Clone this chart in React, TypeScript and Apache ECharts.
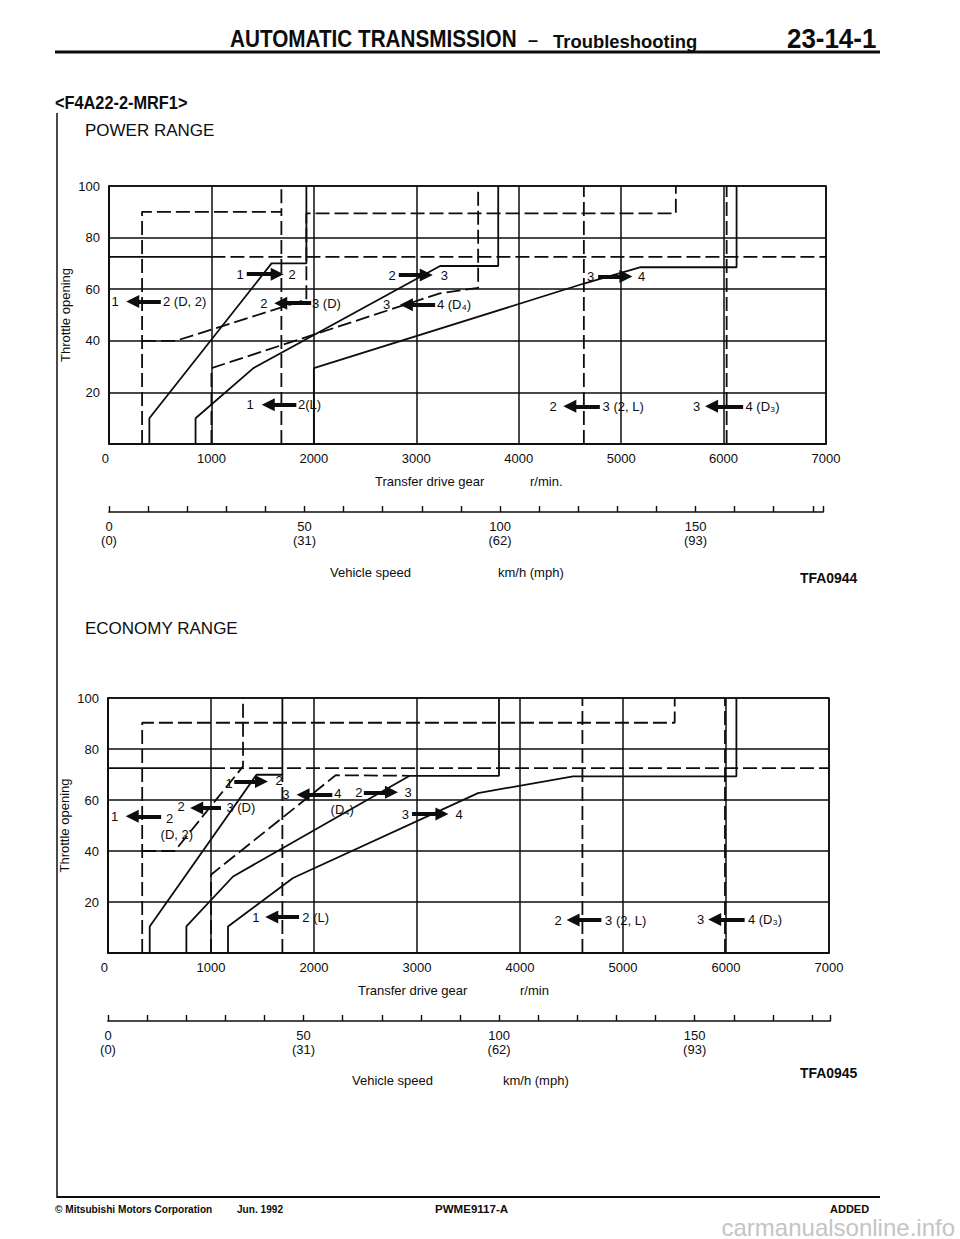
import React, { useEffect, useRef } from "react";
import * as echarts from "echarts";

type Pt = [number, number];
type Arrow = [number, number, number]; // tail rpm, arrow-head rpm, throttle %
type Tag = [number, number, string]; // rpm, throttle %, text

// vehicle speed ruler
const speedKmh = [0, 50, 100, 150];
const speedMph = [0, 31, 62, 93];

// ---------- POWER RANGE ----------
const pwrUp12: Pt[] = [[394, 0], [394, 10], [1587, 70], [1927, 70], [1927, 100]];
const pwrDown21D2: Pt[] = [[323, 0], [323, 90], [1683, 90], [1683, 100]];
const pwrDown21L: Pt[] = [[1683, 0], [1683, 90]];
const pwrDown32D: Pt[] = [[323, 40], [652, 40], [1927, 56], [1927, 89.4], [5534, 89.4], [5534, 100]];
const pwrUp23: Pt[] = [[845, 0], [845, 10], [1410, 29.4], [3232, 69], [3800, 69], [3800, 100]];
const pwrDown43D4: Pt[] = [[1000, 0], [1000, 29.4], [3230, 58.4], [3604, 60.5], [3604, 100]];
const pwrUp34: Pt[] = [[2000, 0], [2000, 29.4], [4645, 62.3], [5182, 68.5], [6127, 68.5], [6127, 100]];
const pwrDown32L: Pt[] = [[4636, 0], [4636, 100]];
const pwrDown43D3: Pt[] = [[6030, 0], [6030, 100]];
const pwrKickSolid: Pt[] = [[0, 72.5], [1000, 72.5]];
const pwrKickDash: Pt[] = [[1000, 72.5], [7000, 72.5]];

const pwrArrows: Arrow[] = [
  [506, 232, 55.2],
  [1345, 1642, 65.8],
  [1974, 1677, 54.6],
  [2829, 3097, 65.5],
  [3184, 2903, 54],
  [1829, 1555, 15.2],
  [4775, 5046, 64.9],
  [4792, 4499, 14.6],
  [6191, 5883, 14.6],
];
const pwrTags: Tag[] = [
  [60, 55.2, "1"],
  [739, 55.2, "2 (D, 2)"],
  [1281, 65.8, "1"],
  [1787, 65.8, "2"],
  [1513, 54.6, "2"],
  [2123, 54.6, "3 (D)"],
  [2765, 65.5, "2"],
  [3274, 65.5, "3"],
  [2710, 54, "3"],
  [3368, 54, "4 (D₄)"],
  [1377, 15.2, "1"],
  [1958, 15.2, "2(L)"],
  [4701, 64.9, "3"],
  [5199, 64.9, "4"],
  [4336, 14.6, "2"],
  [5020, 14.6, "3 (2, L)"],
  [5736, 14.6, "3"],
  [6381, 14.6, "4 (D₃)"],
];

// ---------- ECONOMY RANGE ----------
const ecoDown21D2: Pt[] = [[332, 0], [332, 90.3], [5502, 90.3], [5502, 100]];
const ecoDown21L: Pt[] = [[1693, 0], [1693, 70]];
const ecoUp12: Pt[] = [[405, 0], [405, 10.4], [1441, 69.9], [1693, 69.9], [1693, 100]];
const ecoDown32D: Pt[] = [[332, 40], [648, 40], [1311, 73.2], [1311, 100]];
const ecoUp23: Pt[] = [[761, 0], [761, 10.4], [1214, 30], [2929, 69.5], [3796, 69.5], [3796, 100]];
const ecoDown43D4: Pt[] = [[1000, 0], [1000, 30.7], [2210, 69.7], [2929, 69.5]];
const ecoUp34: Pt[] = [[1165, 0], [1165, 10.4], [1796, 29.4], [3592, 62.7], [4515, 69.3], [6101, 69.3], [6101, 100]];
const ecoDown32L: Pt[] = [[4606, 0], [4606, 100]];
const ecoDown43D3: Pt[] = [[5990, 0], [5990, 100]];
const ecoKickSolid: Pt[] = [[0, 72.5], [1000, 72.5]];
const ecoKickDash: Pt[] = [[1000, 72.5], [7000, 72.5]];

const ecoArrows: Arrow[] = [
  [516, 235, 53.6],
  [1097, 861, 56.9],
  [1226, 1490, 67.3],
  [2178, 1894, 62.1],
  [2484, 2752, 63],
  [2952, 3242, 54.5],
  [1855, 1590, 14.1],
  [4790, 4515, 12.9],
  [6181, 5890, 13.1],
];
const ecoTags: Tag[] = [
  [65, 53.6, "1"],
  [597, 52.6, "2"],
  [668, 46.6, "(D, 2)"],
  [710, 57.6, "2"],
  [1290, 56.9, "3 (D)"],
  [1177, 66.4, "1"],
  [1661, 67.8, "2"],
  [1726, 62.1, "3"],
  [2232, 62.4, "4"],
  [2274, 56.4, "(D₄)"],
  [2436, 63, "2"],
  [2913, 63, "3"],
  [2887, 54.5, "3"],
  [3410, 54.5, "4"],
  [1435, 14.1, "1"],
  [2016, 14.1, "2 (L)"],
  [4369, 12.9, "2"],
  [5026, 12.9, "3 (2, L)"],
  [5754, 13.1, "3"],
  [6379, 13.1, "4 (D₃)"],
];

const INK = "#0d0d0d";
const FONT = '"Liberation Sans", Arial, Helvetica, sans-serif';

function shiftLine(data: Pt[], axis: number, dashed: boolean) {
  return {
    type: "line",
    xAxisIndex: axis,
    yAxisIndex: axis,
    data,
    symbol: "none",
    silent: true,
    z: 3,
    lineStyle: { color: INK, width: 1.8, type: dashed ? [14, 5] : "solid" },
  };
}

function arrowSeries(arrows: Arrow[], axis: number) {
  return {
    type: "lines",
    coordinateSystem: "cartesian2d",
    xAxisIndex: axis,
    yAxisIndex: axis,
    silent: true,
    z: 6,
    symbol: ["none", "triangle"],
    symbolSize: 13,
    lineStyle: { color: INK, width: 4, opacity: 1, curveness: 0 },
    data: arrows.map((a) => ({ coords: [[a[0], a[2]], [a[1], a[2]]] })),
  };
}

function tagSeries(tags: Tag[], axis: number) {
  return {
    type: "scatter",
    xAxisIndex: axis,
    yAxisIndex: axis,
    silent: true,
    z: 7,
    symbolSize: 1,
    itemStyle: { color: "rgba(0,0,0,0)" },
    data: tags.map((t) => ({ value: [t[0], t[1]], name: t[2] })),
    label: {
      show: true,
      position: "inside",
      formatter: (p: any) => p.name,
      color: INK,
      opacity: 1,
      textBorderWidth: 0,
      textBorderColor: "rgba(0,0,0,0)",
      fontSize: 13,
      fontFamily: FONT,
    },
  };
}

function chartAxes(grid: number) {
  const x = {
    gridIndex: grid,
    type: "value",
    min: 0,
    max: 7000,
    interval: 1000,
    axisLine: { show: true, lineStyle: { color: INK, width: 1.6 } },
    axisTick: { show: false },
    splitLine: { show: true, lineStyle: { color: INK, width: 1.5 } },
    axisLabel: {
      color: INK,
      fontSize: 13,
      fontFamily: FONT,
      margin: 8,
      alignMinLabel: "right",
      formatter: (v: number) => String(v),
    },
  };
  const y = {
    gridIndex: grid,
    type: "value",
    min: 0,
    max: 100,
    interval: 20,
    name: "Throttle opening",
    nameLocation: "middle",
    nameGap: 37,
    nameRotate: 90,
    nameMoveOverlap: false,
    nameTextStyle: { color: INK, fontSize: 13, fontFamily: FONT },
    axisLine: { show: true, lineStyle: { color: INK, width: 1.6 } },
    axisTick: { show: false },
    splitLine: { show: true, lineStyle: { color: INK, width: 1.5 } },
    axisLabel: {
      color: INK,
      fontSize: 13,
      fontFamily: FONT,
      margin: 9,
      formatter: (v: number) => (v === 0 ? "" : String(v)),
    },
  };
  return { x, y };
}

function rulerAxes(grid: number, max: number) {
  const x = {
    gridIndex: grid,
    type: "value",
    min: 0,
    max,
    interval: 10,
    position: "bottom",
    axisLine: { show: true, lineStyle: { color: INK, width: 1.7 } },
    axisTick: { show: true, inside: true, length: 6, lineStyle: { color: INK, width: 1.4 } },
    splitLine: { show: false },
    axisLabel: {
      color: INK,
      fontSize: 13,
      fontFamily: FONT,
      margin: 7,
      lineHeight: 14,
      formatter: (v: number) => {
        const i = speedKmh.indexOf(v);
        return i >= 0 ? `${v}\n(${speedMph[i]})` : "";
      },
    },
  };
  const y = { gridIndex: grid, type: "value", show: false, min: 0, max: 1 };
  return { x, y };
}

function txt(text: string, x: number, y: number, font: string, sx = 1, extra: any = {}) {
  return {
    type: "text",
    x,
    y,
    scaleX: sx,
    silent: true,
    style: { text, fill: INK, font, verticalAlign: "middle", align: "left", ...extra },
  };
}

function ln(x1: number, y1: number, x2: number, y2: number, w: number) {
  return {
    type: "line",
    silent: true,
    shape: { x1, y1, x2, y2 },
    style: { stroke: INK, lineWidth: w },
  };
}

export default function App() {
  const ref = useRef<HTMLDivElement>(null);

  useEffect(() => {
    if (!ref.current) return;
    const chart = echarts.init(ref.current, undefined, { renderer: "svg" });

    const a0 = chartAxes(0);
    const r1 = rulerAxes(1, 182.6);
    const a2 = chartAxes(2);
    const r3 = rulerAxes(3, 184.6);

    const option: any = {
      animation: false,
      backgroundColor: "#ffffff",
      grid: [
        { left: 109, top: 186, width: 717, height: 258, show: true, borderColor: INK, borderWidth: 1.6 },
        { left: 109, top: 500, width: 714, height: 12 },
        { left: 108, top: 698, width: 721, height: 255, show: true, borderColor: INK, borderWidth: 1.6 },
        { left: 108, top: 1009, width: 722, height: 12 },
      ],
      xAxis: [a0.x, r1.x, a2.x, r3.x],
      yAxis: [a0.y, r1.y, a2.y, r3.y],
      series: [
        shiftLine(pwrUp12, 0, false),
        shiftLine(pwrDown21D2, 0, true),
        shiftLine(pwrDown21L, 0, true),
        shiftLine(pwrDown32D, 0, true),
        shiftLine(pwrUp23, 0, false),
        shiftLine(pwrDown43D4, 0, true),
        shiftLine(pwrUp34, 0, false),
        shiftLine(pwrDown32L, 0, true),
        shiftLine(pwrDown43D3, 0, true),
        shiftLine(pwrKickSolid, 0, false),
        shiftLine(pwrKickDash, 0, true),
        arrowSeries(pwrArrows, 0),
        tagSeries(pwrTags, 0),

        shiftLine(ecoDown21D2, 2, true),
        shiftLine(ecoDown21L, 2, true),
        shiftLine(ecoUp12, 2, false),
        shiftLine(ecoDown32D, 2, true),
        shiftLine(ecoUp23, 2, false),
        shiftLine(ecoDown43D4, 2, true),
        shiftLine(ecoUp34, 2, false),
        shiftLine(ecoDown32L, 2, true),
        shiftLine(ecoDown43D3, 2, true),
        shiftLine(ecoKickSolid, 2, false),
        shiftLine(ecoKickDash, 2, true),
        arrowSeries(ecoArrows, 2),
        tagSeries(ecoTags, 2),
      ],
      graphic: [
        // header
        txt("AUTOMATIC TRANSMISSION", 230, 39, `bold 23px ${FONT}`, 0.9),
        txt("–", 528, 40, `bold 18px ${FONT}`),
        txt("Troubleshooting", 553, 41, `bold 19px ${FONT}`, 0.97),
        txt("23-14-1", 787, 39, `bold 27px ${FONT}`, 0.96),
        ln(55, 52, 880, 52, 3),
        txt("<F4A22-2-MRF1>", 55, 103, `bold 19px ${FONT}`, 0.86),
        ln(57, 113, 57, 1198, 1.5),
        // power range
        txt("POWER RANGE", 85, 130, `17px ${FONT}`),
        txt("Transfer drive gear", 375, 481, `13px ${FONT}`),
        txt("r/min.", 530, 481, `13px ${FONT}`),
        txt("Vehicle speed", 330, 572, `13px ${FONT}`),
        txt("km/h (mph)", 498, 572, `13px ${FONT}`),
        txt("TFA0944", 800, 578, `bold 15px ${FONT}`, 0.93),
        // economy range
        txt("ECONOMY RANGE", 85, 628, `17px ${FONT}`),
        txt("Transfer drive gear", 358, 990, `13px ${FONT}`),
        txt("r/min", 520, 990, `13px ${FONT}`),
        txt("Vehicle speed", 352, 1080, `13px ${FONT}`),
        txt("km/h (mph)", 503, 1080, `13px ${FONT}`),
        txt("TFA0945", 800, 1073, `bold 15px ${FONT}`, 0.93),
        // footer
        ln(57, 1197, 880, 1197, 2),
        txt("© Mitsubishi Motors Corporation", 55, 1209, `bold 11px ${FONT}`, 0.92),
        txt("Jun. 1992", 237, 1209, `bold 11px ${FONT}`, 0.92),
        txt("PWME9117-A", 435, 1209, `bold 11px ${FONT}`, 1.05),
        txt("ADDED", 830, 1209, `bold 11px ${FONT}`),
        {
          type: "text",
          x: 955,
          y: 1227,
          silent: true,
          style: {
            text: "carmanualsonline.info",
            fill: "#c4c4c4",
            font: `24px ${FONT}`,
            align: "right",
            verticalAlign: "middle",
          },
        },
      ],
    };

    chart.setOption(option);
    return () => chart.dispose();
  }, []);

  return (
    <div
      ref={ref}
      style={{ position: "absolute", left: 0, top: 0, width: 960, height: 1239, background: "#fff" }}
    />
  );
}
